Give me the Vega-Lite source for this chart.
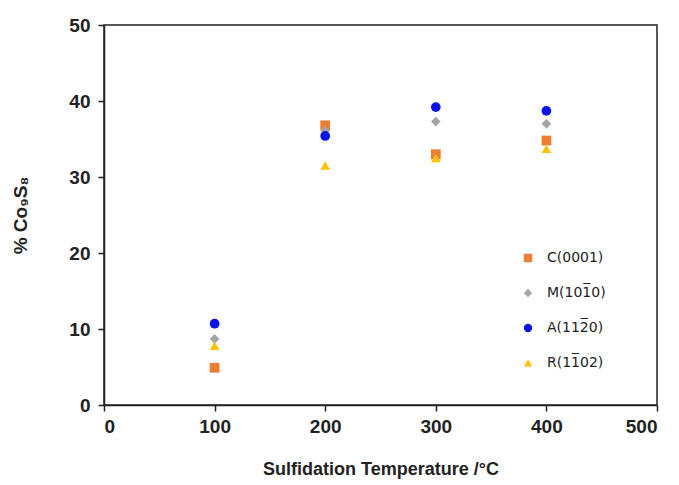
{
  "$schema": "https://vega.github.io/schema/vega-lite/v6.json",
  "width": 553,
  "height": 380,
  "autosize": "none",
  "padding": {"left": 104, "top": 25, "right": 22, "bottom": 80},
  "background": "white",
  "config": {
    "view": {"stroke": "#222", "strokeWidth": 1.5},
    "font": "Liberation Sans"
  },
  "data": {
    "values": [
      {"T": 100, "s": "C(0001)", "v": 4.9},
      {"T": 200, "s": "C(0001)", "v": 36.8},
      {"T": 300, "s": "C(0001)", "v": 33.0},
      {"T": 400, "s": "C(0001)", "v": 34.8},
      {"T": 100, "s": "M(101̅0)", "v": 8.7},
      {"T": 200, "s": "M(101̅0)", "v": 36.1},
      {"T": 300, "s": "M(101̅0)", "v": 37.3},
      {"T": 400, "s": "M(101̅0)", "v": 37.0},
      {"T": 100, "s": "A(112̅0)", "v": 10.7},
      {"T": 200, "s": "A(112̅0)", "v": 35.4},
      {"T": 300, "s": "A(112̅0)", "v": 39.2},
      {"T": 400, "s": "A(112̅0)", "v": 38.7},
      {"T": 100, "s": "R(11̅02)", "v": 7.8},
      {"T": 200, "s": "R(11̅02)", "v": 31.5},
      {"T": 300, "s": "R(11̅02)", "v": 32.5},
      {"T": 400, "s": "R(11̅02)", "v": 33.7}
    ]
  },
  "mark": {"type": "point", "filled": true, "opacity": 1, "size": 95},
  "encoding": {
    "x": {
      "field": "T", "type": "quantitative",
      "scale": {"domain": [0, 500], "nice": false},
      "axis": {
        "values": [0, 100, 200, 300, 400, 500],
        "title": "Sulfidation Temperature /°C",
        "titleFont": "Liberation Sans", "titleFontSize": 18, "titleFontWeight": "bold", "titleColor": "#222",
        "titlePadding": 24,
        "labelFont": "Liberation Sans", "labelFontSize": 19, "labelFontWeight": "bold", "labelColor": "#222",
        "labelPadding": 6,
        "grid": false, "domainColor": "#222", "domainWidth": 1.5,
        "tickColor": "#222", "tickWidth": 1.5, "tickSize": 6
      }
    },
    "y": {
      "field": "v", "type": "quantitative",
      "scale": {"domain": [0, 50], "nice": false},
      "axis": {
        "values": [0, 10, 20, 30, 40, 50],
        "title": "% Co₉S₈",
        "titleFont": "Liberation Sans", "titleFontSize": 19, "titleFontWeight": "bold", "titleColor": "#222",
        "titlePadding": 38,
        "labelFont": "Liberation Sans", "labelFontSize": 19, "labelFontWeight": "bold", "labelColor": "#222",
        "labelPadding": 8,
        "grid": false, "domainColor": "#222", "domainWidth": 1.5,
        "tickColor": "#222", "tickWidth": 1.5, "tickSize": 6
      }
    },
    "color": {
      "field": "s", "type": "nominal",
      "scale": {
        "domain": ["C(0001)", "M(101̅0)", "A(112̅0)", "R(11̅02)"],
        "range": ["#ED7D31", "#A5A5A5", "#0A14E8", "#FFC000"]
      },
      "legend": {
        "title": null,
        "orient": "none",
        "legendX": 417,
        "legendY": 226,
        "labelFont": "DejaVu Sans",
        "labelFontSize": 14,
        "labelColor": "#222",
        "rowPadding": 21,
        "labelOffset": 12,
        "symbolSize": 70
      }
    },
    "shape": {
      "field": "s", "type": "nominal",
      "scale": {
        "domain": ["C(0001)", "M(101̅0)", "A(112̅0)", "R(11̅02)"],
        "range": ["square", "diamond", "circle", "triangle-up"]
      },
      "legend": null
    }
  }
}
